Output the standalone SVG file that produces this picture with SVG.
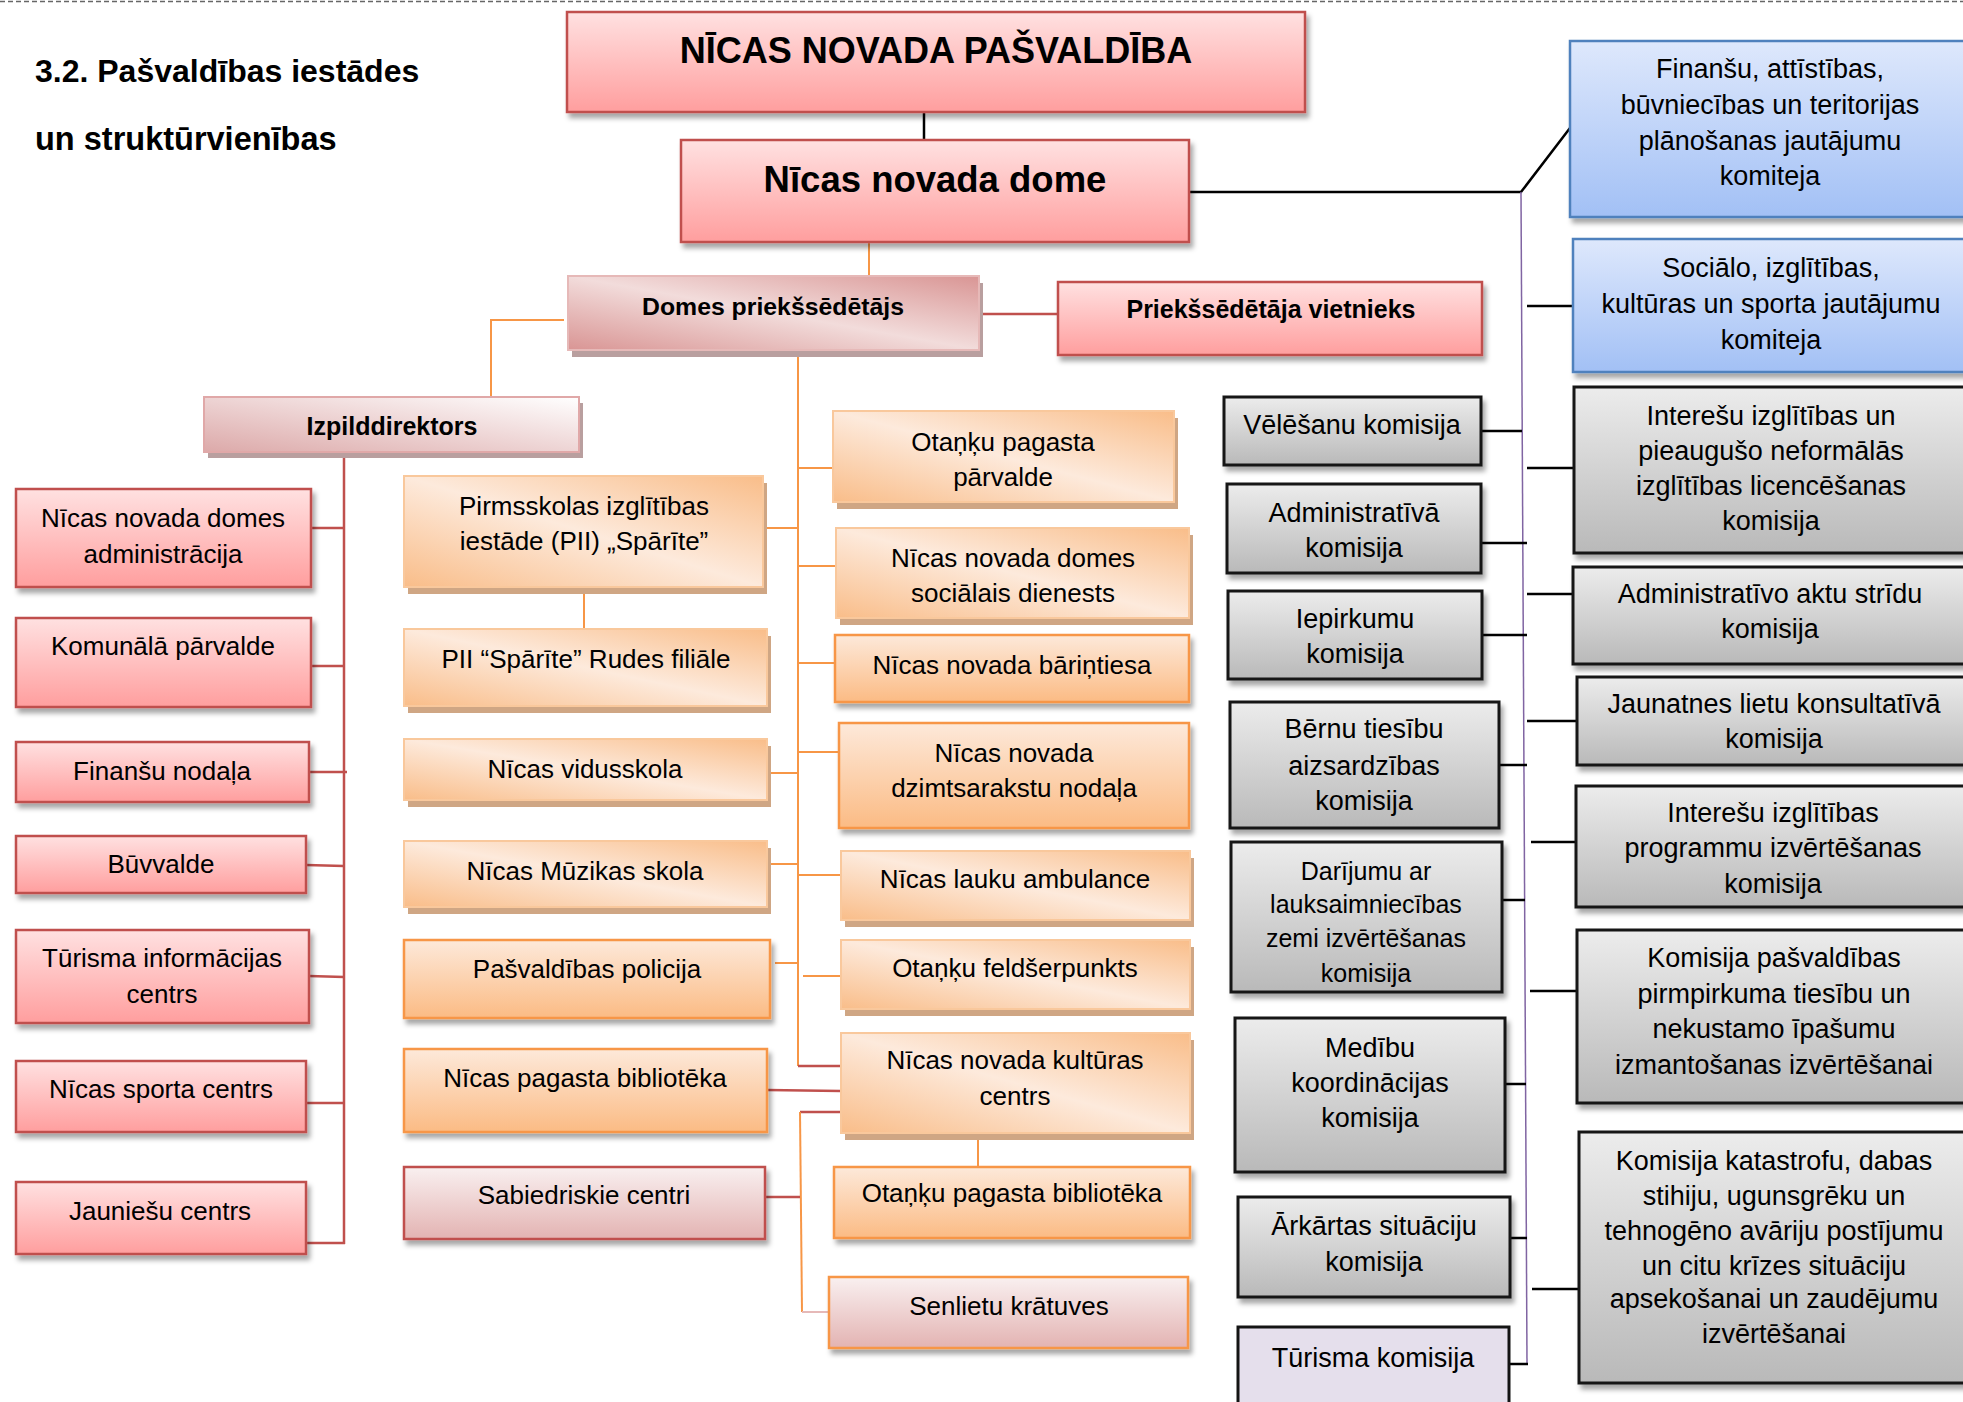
<svg xmlns="http://www.w3.org/2000/svg" width="1963" height="1402" viewBox="0 0 1963 1402">
<defs>
  <linearGradient id="gRed" x1="0" y1="0" x2="0" y2="1"><stop offset="0" stop-color="#ffe1e1"/><stop offset="1" stop-color="#ff9e9e"/></linearGradient>
  <linearGradient id="gOrB" x1="0" y1="1" x2="1" y2="0"><stop offset="0" stop-color="#f9bd89"/><stop offset="0.5" stop-color="#fdeadc"/><stop offset="1" stop-color="#f9bd89"/></linearGradient>
  <linearGradient id="gOrS" x1="0" y1="0" x2="0" y2="1"><stop offset="0" stop-color="#fde9da"/><stop offset="1" stop-color="#fbbb84"/></linearGradient>
  <linearGradient id="gPkB" x1="0" y1="1" x2="1" y2="0"><stop offset="0" stop-color="#d99594"/><stop offset="0.5" stop-color="#f2dcdb"/><stop offset="1" stop-color="#d99594"/></linearGradient>
  <linearGradient id="gPkW" x1="0" y1="1" x2="1" y2="0"><stop offset="0" stop-color="#dca9a9"/><stop offset="1" stop-color="#ffffff"/></linearGradient>
  <linearGradient id="gPkV" x1="0" y1="0" x2="0" y2="1"><stop offset="0" stop-color="#f9f0f0"/><stop offset="1" stop-color="#e3b3b2"/></linearGradient>
  <linearGradient id="gGr" x1="0" y1="0" x2="0" y2="1"><stop offset="0" stop-color="#ececec"/><stop offset="1" stop-color="#b9b9b9"/></linearGradient>
  <linearGradient id="gBl" x1="0" y1="0" x2="0" y2="1"><stop offset="0" stop-color="#dee8fc"/><stop offset="1" stop-color="#a2c0f5"/></linearGradient>
  <filter id="sh" x="-5%" y="-10%" width="115%" height="130%"><feDropShadow dx="3" dy="5" stdDeviation="2.5" flood-color="#000" flood-opacity="0.35"/></filter>
</defs>
<style>
  text{font-family:"Liberation Sans",Arial,sans-serif;fill:#000;text-anchor:middle;font-size:26px}
  .b{font-weight:bold}
  .r27{font-size:27px}
  .red{fill:url(#gRed);stroke:#c0504d;stroke-width:2.5;filter:url(#sh)}
  .orb{fill:url(#gOrB);stroke:#f9c89c;stroke-width:2}
  .ors{fill:url(#gOrS);stroke:#f79646;stroke-width:2.5;filter:url(#sh)}
  .pkb{fill:url(#gPkB);stroke:#e6b9b8;stroke-width:2}
  .pkw{fill:url(#gPkW);stroke:#e0a8a8;stroke-width:2}
  .pkv{fill:url(#gPkV);stroke:#c0504d;stroke-width:2.5;filter:url(#sh)}
  .pko{fill:url(#gPkV);stroke:#f79646;stroke-width:2.5;filter:url(#sh)}
  .gry{fill:url(#gGr);stroke:#141414;stroke-width:3;filter:url(#sh)}
  .blu{fill:url(#gBl);stroke:#4f81bd;stroke-width:2.5;filter:url(#sh)}
  .lav{fill:#e5dfec;stroke:#141414;stroke-width:3}
  .so{fill:#cfa684}
  .sp{fill:#b99f9f}
  .cr{stroke:#c0504d;stroke-width:2.5;fill:none}
  .co{stroke:#f79646;stroke-width:2;fill:none}
  .ck{stroke:#000;stroke-width:2.5;fill:none}
  .cp{stroke:#8064a2;stroke-width:1.5;fill:none}
  .cl{stroke:#e6b9b8;stroke-width:2;fill:none}
</style>

<line x1="0" y1="1.5" x2="1963" y2="1.5" stroke="#666" stroke-width="1.5" stroke-dasharray="5 3"/>
<text class="b" x="35" y="82" style="text-anchor:start;font-size:32px">3.2. Pašvaldības iestādes</text>
<text class="b" x="35" y="150" style="text-anchor:start;font-size:32.5px">un struktūrvienības</text>

<g id="connectors">
  <line class="ck" x1="924" y1="112" x2="924" y2="140"/>
  <line class="co" x1="869" y1="242" x2="869" y2="276"/>
  <line class="cr" x1="979" y1="314" x2="1058" y2="314"/>
  <polyline class="co" points="564,320 491,320 491,397"/>
  <line class="co" x1="798" y1="350" x2="798" y2="1066"/>
  <line class="cr" x1="344" y1="452" x2="344" y2="1244"/>
  <line class="cr" x1="311" y1="528" x2="344" y2="528"/>
  <line class="cr" x1="311" y1="666" x2="344" y2="666"/>
  <line class="cr" x1="309" y1="772" x2="347" y2="772"/>
  <line class="cr" x1="306" y1="865" x2="344" y2="866"/>
  <line class="cr" x1="309" y1="976" x2="344" y2="977"/>
  <line class="cr" x1="306" y1="1103" x2="344" y2="1103"/>
  <line class="cr" x1="306" y1="1243" x2="345" y2="1243"/>
  <line class="co" x1="763" y1="528" x2="798" y2="528"/>
  <line class="co" x1="584" y1="587" x2="584" y2="629"/>
  <line class="co" x1="767" y1="773" x2="798" y2="773"/>
  <line class="co" x1="767" y1="864" x2="798" y2="864"/>
  <line class="co" x1="775" y1="963" x2="798" y2="963"/>
  <line class="co" x1="798" y1="468" x2="833" y2="468"/>
  <line class="co" x1="798" y1="566" x2="836" y2="566"/>
  <line class="co" x1="798" y1="663" x2="835" y2="663"/>
  <line class="co" x1="798" y1="752" x2="839" y2="752"/>
  <line class="co" x1="798" y1="875" x2="841" y2="875"/>
  <line class="co" x1="803" y1="976" x2="841" y2="976"/>
  <line class="cr" x1="798" y1="1066" x2="841" y2="1066"/>
  <line class="cr" x1="767" y1="1090" x2="841" y2="1091"/>
  <line class="cr" x1="841" y1="1112" x2="800" y2="1112"/>
  <line class="co" x1="800" y1="1112" x2="802" y2="1312"/>
  <line class="cl" x1="802" y1="1312" x2="829" y2="1312"/>
  <line class="cr" x1="765" y1="1197" x2="800" y2="1197"/>
  <line class="co" x1="978" y1="1133" x2="978" y2="1167"/>
  <polyline class="ck" points="1189,192 1521,192 1570,128"/>
  <line class="cp" x1="1521" y1="192" x2="1527" y2="1364"/>
  <line class="ck" x1="1527" y1="306" x2="1573" y2="306"/>
  <line class="ck" x1="1481" y1="431" x2="1522" y2="431"/>
  <line class="ck" x1="1481" y1="543" x2="1527" y2="543"/>
  <line class="ck" x1="1482" y1="635" x2="1527" y2="635"/>
  <line class="ck" x1="1499" y1="765" x2="1527" y2="765"/>
  <line class="ck" x1="1502" y1="900" x2="1525" y2="900"/>
  <line class="ck" x1="1505" y1="1084" x2="1526" y2="1084"/>
  <line class="ck" x1="1510" y1="1238" x2="1527" y2="1238"/>
  <line class="ck" x1="1509" y1="1364" x2="1528" y2="1364"/>
  <line class="ck" x1="1527" y1="468" x2="1574" y2="468"/>
  <line class="ck" x1="1527" y1="594" x2="1573" y2="594"/>
  <line class="ck" x1="1527" y1="721" x2="1577" y2="721"/>
  <line class="ck" x1="1531" y1="842" x2="1576" y2="842"/>
  <line class="ck" x1="1530" y1="991" x2="1577" y2="991"/>
  <line class="ck" x1="1532" y1="1289" x2="1579" y2="1289"/>
</g>

<g id="n-pasvaldiba"><rect class="red" x="567" y="12" width="738" height="100"/><text class="b" x="936" y="63" style="font-size:36px">NĪCAS NOVADA PAŠVALDĪBA</text></g>
<g id="n-dome"><rect class="red" x="681" y="140" width="508" height="102"/><text class="b" x="935" y="192" style="font-size:36.5px">Nīcas novada dome</text></g>
<g id="n-priekssedetajs"><rect class="sp" x="572" y="283" width="411" height="74"/><rect class="pkb" x="568" y="276" width="411" height="74"/><text class="b" x="773" y="315" style="font-size:24.8px">Domes priekšsēdētājs</text></g>
<g id="n-vietnieks"><rect class="red" x="1058" y="282" width="424" height="73"/><text class="b" x="1271" y="318" style="font-size:25px">Priekšsēdētāja vietnieks</text></g>
<g id="n-izpild"><rect class="sp" x="208" y="403" width="375" height="55"/><rect class="pkw" x="204" y="397" width="375" height="55"/><text class="b" x="392" y="435" style="font-size:25px">Izpilddirektors</text></g>

<g id="n-admin"><rect class="red" x="16" y="489" width="295" height="98"/><text x="163" y="527">Nīcas novada domes</text><text x="163" y="563">administrācija</text></g>
<g id="n-komunala"><rect class="red" x="16" y="618" width="295" height="89"/><text x="163" y="655">Komunālā pārvalde</text></g>
<g id="n-finansu"><rect class="red" x="16" y="742" width="293" height="60"/><text x="162" y="780">Finanšu nodaļa</text></g>
<g id="n-buvvalde"><rect class="red" x="16" y="836" width="290" height="57"/><text x="161" y="873">Būvvalde</text></g>
<g id="n-turisma-info"><rect class="red" x="16" y="930" width="293" height="93"/><text x="162" y="967">Tūrisma informācijas</text><text x="162" y="1003">centrs</text></g>
<g id="n-sporta"><rect class="red" x="16" y="1061" width="290" height="71"/><text x="161" y="1098">Nīcas sporta centrs</text></g>
<g id="n-jauniesu"><rect class="red" x="16" y="1182" width="290" height="72"/><text x="160" y="1220">Jauniešu centrs</text></g>

<g id="n-pii"><rect class="so" x="408" y="483" width="359" height="111"/><rect class="orb" x="404" y="476" width="359" height="111"/><text x="584" y="515">Pirmsskolas izglītības</text><text x="584" y="550">iestāde (PII) „Spārīte”</text></g>
<g id="n-pii-rudes"><rect class="so" x="408" y="636" width="363" height="77"/><rect class="orb" x="404" y="629" width="363" height="77"/><text x="586" y="668">PII “Spārīte” Rudes filiāle</text></g>
<g id="n-vidusskola"><rect class="so" x="408" y="746" width="363" height="61"/><rect class="orb" x="404" y="739" width="363" height="61"/><text x="585" y="778">Nīcas vidusskola</text></g>
<g id="n-muzikas"><rect class="so" x="408" y="848" width="363" height="66"/><rect class="orb" x="404" y="841" width="363" height="66"/><text x="585" y="880">Nīcas Mūzikas skola</text></g>
<g id="n-policija"><rect class="ors" x="404" y="940" width="366" height="78"/><text x="587" y="978">Pašvaldības policija</text></g>
<g id="n-nicas-bibl"><rect class="ors" x="404" y="1049" width="363" height="83"/><text x="585" y="1087">Nīcas pagasta bibliotēka</text></g>
<g id="n-sabiedriskie"><rect class="pkv" x="404" y="1167" width="361" height="72"/><text x="584" y="1204">Sabiedriskie centri</text></g>

<g id="n-otanku-parv"><rect class="so" x="837" y="418" width="341" height="91"/><rect class="orb" x="833" y="411" width="341" height="91"/><text x="1003" y="451">Otaņķu pagasta</text><text x="1003" y="486">pārvalde</text></g>
<g id="n-socialais"><rect class="so" x="840" y="535" width="353" height="90"/><rect class="orb" x="836" y="528" width="353" height="90"/><text x="1013" y="567">Nīcas novada domes</text><text x="1013" y="602">sociālais dienests</text></g>
<g id="n-barintiesa"><rect class="ors" x="835" y="635" width="354" height="67"/><text x="1012" y="674">Nīcas novada bāriņtiesa</text></g>
<g id="n-dzimtsarakstu"><rect class="ors" x="839" y="723" width="350" height="105"/><text x="1014" y="762">Nīcas novada</text><text x="1014" y="797">dzimtsarakstu nodaļa</text></g>
<g id="n-ambulance"><rect class="so" x="845" y="858" width="349" height="69"/><rect class="orb" x="841" y="851" width="349" height="69"/><text x="1015" y="888">Nīcas lauku ambulance</text></g>
<g id="n-feldserpunkts"><rect class="so" x="845" y="947" width="349" height="69"/><rect class="orb" x="841" y="940" width="349" height="69"/><text x="1015" y="977">Otaņķu feldšerpunkts</text></g>
<g id="n-kulturas"><rect class="so" x="845" y="1040" width="349" height="100"/><rect class="orb" x="841" y="1033" width="349" height="100"/><text x="1015" y="1069">Nīcas novada kultūras</text><text x="1015" y="1105">centrs</text></g>
<g id="n-otanku-bibl"><rect class="ors" x="834" y="1167" width="356" height="71"/><text x="1012" y="1202">Otaņķu pagasta bibliotēka</text></g>
<g id="n-senlietu"><rect class="pko" x="829" y="1277" width="359" height="71"/><text x="1009" y="1315">Senlietu krātuves</text></g>

<g id="n-velesanu"><rect class="gry" x="1224" y="397" width="257" height="68"/><text class="r27" x="1352" y="434">Vēlēšanu komisija</text></g>
<g id="n-administrativa"><rect class="gry" x="1227" y="484" width="254" height="89"/><text class="r27" x="1354" y="522">Administratīvā</text><text class="r27" x="1354" y="557">komisija</text></g>
<g id="n-iepirkumu"><rect class="gry" x="1228" y="591" width="254" height="88"/><text class="r27" x="1355" y="628">Iepirkumu</text><text class="r27" x="1355" y="663">komisija</text></g>
<g id="n-bernu"><rect class="gry" x="1230" y="702" width="269" height="126"/><text class="r27" x="1364" y="738">Bērnu tiesību</text><text class="r27" x="1364" y="775">aizsardzības</text><text class="r27" x="1364" y="810">komisija</text></g>
<g id="n-darijumu"><rect class="gry" x="1231" y="842" width="271" height="150"/><text x="1366" y="880" style="font-size:25px">Darījumu ar</text><text x="1366" y="913" style="font-size:25px">lauksaimniecības</text><text x="1366" y="947" style="font-size:25px">zemi izvērtēšanas</text><text x="1366" y="982" style="font-size:25px">komisija</text></g>
<g id="n-medibu"><rect class="gry" x="1235" y="1018" width="270" height="154"/><text class="r27" x="1370" y="1057">Medību</text><text class="r27" x="1370" y="1092">koordinācijas</text><text class="r27" x="1370" y="1127">komisija</text></g>
<g id="n-arkartas"><rect class="gry" x="1238" y="1197" width="272" height="100"/><text class="r27" x="1374" y="1235">Ārkārtas situāciju</text><text class="r27" x="1374" y="1271">komisija</text></g>
<g id="n-turisma-kom"><rect class="lav" x="1238" y="1327" width="271" height="95"/><text class="r27" x="1373" y="1367">Tūrisma komisija</text></g>

<g id="n-finansu-komiteja"><rect class="blu" x="1570" y="41" width="402" height="176"/><text class="r27" x="1770" y="78">Finanšu, attīstības,</text><text class="r27" x="1770" y="114">būvniecības un teritorijas</text><text class="r27" x="1770" y="150">plānošanas jautājumu</text><text class="r27" x="1770" y="185">komiteja</text></g>
<g id="n-socialo-komiteja"><rect class="blu" x="1573" y="239" width="400" height="133"/><text class="r27" x="1771" y="277">Sociālo, izglītības,</text><text class="r27" x="1771" y="313">kultūras un sporta jautājumu</text><text class="r27" x="1771" y="349">komiteja</text></g>
<g id="n-interesu-lic"><rect class="gry" x="1574" y="387" width="400" height="166"/><text class="r27" x="1771" y="425">Interešu izglītības un</text><text class="r27" x="1771" y="460">pieaugušo neformālās</text><text class="r27" x="1771" y="495">izglītības licencēšanas</text><text class="r27" x="1771" y="530">komisija</text></g>
<g id="n-akti"><rect class="gry" x="1573" y="567" width="400" height="97"/><text class="r27" x="1770" y="603">Administratīvo aktu strīdu</text><text class="r27" x="1770" y="638">komisija</text></g>
<g id="n-jaunatnes"><rect class="gry" x="1577" y="677" width="400" height="88"/><text class="r27" x="1774" y="713">Jaunatnes lietu konsultatīvā</text><text class="r27" x="1774" y="748">komisija</text></g>
<g id="n-interesu-progr"><rect class="gry" x="1576" y="786" width="400" height="121"/><text class="r27" x="1773" y="822">Interešu izglītības</text><text class="r27" x="1773" y="857">programmu izvērtēšanas</text><text class="r27" x="1773" y="893">komisija</text></g>
<g id="n-pirmpirkuma"><rect class="gry" x="1577" y="930" width="400" height="173"/><text class="r27" x="1774" y="967">Komisija pašvaldības</text><text class="r27" x="1774" y="1003">pirmpirkuma tiesību un</text><text class="r27" x="1774" y="1038">nekustamo īpašumu</text><text class="r27" x="1774" y="1074">izmantošanas izvērtēšanai</text></g>
<g id="n-katastrofu"><rect class="gry" x="1579" y="1132" width="400" height="251"/><text class="r27" x="1774" y="1170">Komisija katastrofu, dabas</text><text class="r27" x="1774" y="1205">stihiju, ugunsgrēku un</text><text class="r27" x="1774" y="1240">tehnogēno avāriju postījumu</text><text class="r27" x="1774" y="1275">un citu krīzes situāciju</text><text class="r27" x="1774" y="1308">apsekošanai un zaudējumu</text><text class="r27" x="1774" y="1343">izvērtēšanai</text></g>
</svg>
